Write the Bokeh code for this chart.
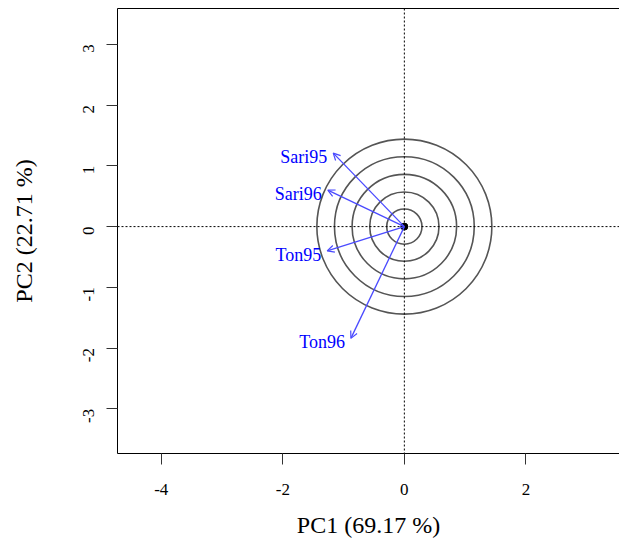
import math
from bokeh.plotting import figure
from bokeh.models import (Range1d, LinearAxis, FixedTicker, Span, Arrow, OpenHead,
                          ColumnDataSource)
from bokeh.core.properties import value
from bokeh.embed import file_html
from bokeh.resources import INLINE

# ---- data ----
env_names = ["Sari95", "Sari96", "Ton95", "Ton96"]
env_pc1 = [-1.17, -1.26, -1.27, -0.88]
env_pc2 = [1.21, 0.60, -0.40, -1.84]
circle_radii = [0.29, 0.57, 0.86, 1.15, 1.44]
x_ticks = [-4, -2, 0, 2]
y_ticks = [-3, -2, -1, 0, 1, 2, 3]
x_title = "PC1 (69.17 %)"
y_title = "PC2 (22.71 %)"

FONT = "Liberation Serif"

p = figure(width=619, height=545, output_backend="svg", toolbar_location=None,
           x_range=Range1d(-4.72, 3.54), y_range=Range1d(-3.735, 3.59),
           min_border_left=117, min_border_right=0, min_border_top=8,
           min_border_bottom=92, x_axis_label=x_title, y_axis_label=y_title)
p.background_fill_color = "white"
p.border_fill_color = "white"
p.outline_line_color = None
p.grid.visible = False

# axes
xa = p.xaxis[0]
ya = p.yaxis[0]
xa.ticker = FixedTicker(ticks=x_ticks)
ya.ticker = FixedTicker(ticks=y_ticks)
xa.major_label_overrides = {t: str(t) for t in x_ticks}
ya.major_label_overrides = {t: str(t) for t in y_ticks}
ya.major_label_orientation = math.pi / 2
for ax in (xa, ya):
    ax.axis_line_color = "black"
    ax.axis_line_width = 1
    ax.major_tick_line_color = "#333333"
    ax.major_tick_out = 11
    ax.major_tick_in = 0
    ax.minor_tick_line_color = None
    ax.major_label_text_font = FONT
    ax.major_label_text_font_size = "17px"
    ax.major_label_text_color = "black"
    ax.axis_label_text_font = FONT
    ax.axis_label_text_font_size = "24px"
    ax.axis_label_text_font_style = "normal"
    ax.axis_label_text_color = "black"
xa.major_label_standoff = 19
xa.axis_label_standoff = 14
ya.major_label_standoff = 18
ya.axis_label_standoff = 38

top = LinearAxis(ticker=FixedTicker(ticks=[]), major_tick_out=0, major_tick_in=0,
                 minor_tick_line_color=None, major_label_text_font_size="0px",
                 axis_line_color="black", major_label_standoff=0)
p.add_layout(top, "above")

# reference lines
p.add_layout(Span(location=0, dimension="height", line_color="black",
                  line_dash="2 2", line_width=1))
p.add_layout(Span(location=0, dimension="width", line_color="black",
                  line_dash="2 2", line_width=1))

# concentric circles
p.circle(x=[0] * len(circle_radii), y=[0] * len(circle_radii), radius=circle_radii,
         fill_color=None, line_color="#555555", line_width=1.6)

# vectors
src = ColumnDataSource(dict(x=env_pc1, y=env_pc2, name=env_names))
p.add_layout(Arrow(end=OpenHead(size=7, line_color="#4a4aff", line_width=1.2),
                   x_start=0, y_start=0, x_end="x", y_end="y", source=src,
                   line_color="#4a4aff", line_width=1.3))
p.text(x="x", y="y", text="name", source=src, text_align="right",
       text_baseline="middle", x_offset=-6, y_offset=4,
       text_font=value(FONT), text_font_size="18px", text_color="blue")

# origin dot
p.scatter(x=[0], y=[0], size=7, color="black")

open("out.html", "w").write(file_html(p, INLINE))
